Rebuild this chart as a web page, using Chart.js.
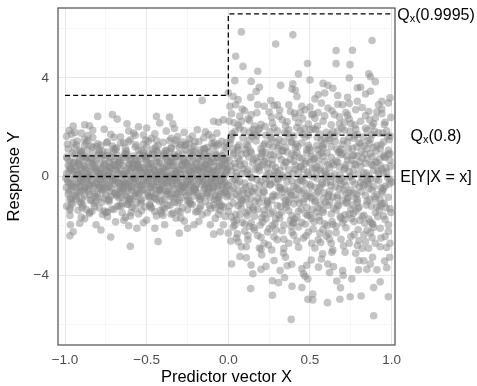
<!DOCTYPE html>
<html>
<head>
<meta charset="utf-8">
<script src="https://cdn.jsdelivr.net/npm/chart.js@4.4.1/dist/chart.umd.min.js"></script>
<style>
html,body{margin:0;padding:0;background:#fff;}
canvas{display:block;}
</style>
</head>
<body>
<canvas id="c" width="477" height="386"></canvas>
<script>
// ---- Data ----
const xMajor = [-1, -0.5, 0, 0.5, 1];
const xGrid = [-1, -0.75, -0.5, -0.25, 0, 0.25, 0.5, 0.75, 1];
const yMajor = [-4, 0, 4];
const yGrid = [-6, -4, -2, 0, 2, 4, 6];

// Q_x(0.9995) step line
const q9995X = [-1, 0, 0, 1];
const q9995Y = [3.29, 3.29, 6.6, 6.6];
// Q_x(0.8) step line
const q80X = [-1, 0, 0, 1];
const q80Y = [0.84, 0.84, 1.68, 1.68];
// E[Y|X=x]
const meanX = [-1, 1];
const meanY = [0, 0];

const lineLabels = ["Q|x|(0.9995)", "Q|x|(0.8)", "E[Y|X = x]"];
const lineLabelY = [6.6, 1.68, 0];

// observations, X < 0
const leftPts = [
[-0.80,2.44],[-0.71,2.51],[-0.44,2.44],[-0.36,2.41],[-0.16,3.09],[-0.60,-2.83],[-0.43,-2.64],
[-0.68,2.33],[-0.62,2.14],[-0.34,2.14],[-0.42,2.17],[-0.72,-2.46],[-0.97,-2.41],[-0.30,-2.30],[-0.09,-2.34],[-0.06,2.2],[-0.03,2.3],[-0.95,2.05],[-0.55,2.02],[-0.25,-2.1],[-0.45,-2.1],[-0.78,-2.17],[-0.61,-2.0],[-0.88,2.1],[-0.85,2.06],[-0.09,2.24],[-0.95,-2.24],[-0.56,-2.1],[-0.05,-2.24],
[-0.975,1.87],[-0.94,1.79],[-0.9,1.76],[-0.58,1.76],[-0.5,1.97],[-0.27,1.79],[-0.12,1.7],[-0.07,1.76],[-0.99,1.63],[-0.967,-1.96],[-0.81,-1.96],[-0.91,-1.9],[-0.39,-1.96],[-0.32,-1.69],[-0.21,-1.96],[-0.11,-1.96],[-0.03,-1.96],
[-0.83,1.58],[-0.76,1.92],[-0.66,1.61],[-0.52,1.68],[-0.47,1.55],[-0.38,1.84],[-0.31,1.62],[-0.19,1.9],[-0.15,1.57],[-0.72,1.71],[-0.61,1.85],[-0.24,1.52],[-0.86,1.66],
[-0.97,-1.58],[-0.88,-1.72],[-0.74,-1.63],[-0.69,-1.84],[-0.55,-1.52],[-0.5,-1.77],[-0.44,-1.6],[-0.27,-1.81],[-0.16,-1.55],[-0.08,-1.7],[-0.63,-1.66],[-0.35,-1.53],[-0.02,-1.62],[-0.85,-1.51],[-0.97,-1.28],
[-0.96,1.72],[-0.9,-1.65],[-0.83,1.88],[-0.77,-1.54],[-0.7,1.59],[-0.64,-1.78],[-0.57,1.67],[-0.52,-1.88],[-0.45,1.73],[-0.4,-1.57],[-0.33,1.95],[-0.29,-1.68],[-0.22,1.64],[-0.18,-1.82],[-0.1,1.58],[-0.06,-1.53],[-0.88,1.51],[-0.6,-1.6],[-0.35,1.55],[-0.14,1.81],
[-0.98,1.12],[-0.95,1.38],[-0.91,1.05],[-0.88,1.27],[-0.86,1.46],[-0.83,1.19],[-0.8,1.33],[-0.77,1.02],[-0.74,1.41],[-0.71,1.24],[-0.69,1.09],[-0.66,1.36],[-0.63,1.15],[-0.6,1.49],[-0.57,1.21],[-0.55,1.07],[-0.52,1.31],[-0.49,1.44],[-0.46,1.11],[-0.43,1.26],[-0.4,1.39],[-0.38,1.03],[-0.35,1.17],[-0.32,1.47],[-0.29,1.29],[-0.26,1.08],[-0.24,1.35],[-0.21,1.22],[-0.18,1.42],[-0.15,1.13],[-0.12,1.01],[-0.1,1.34],[-0.07,1.25],[-0.04,1.43],[-0.01,1.16],[-0.93,1.28],[-0.79,1.06],[-0.64,1.37],[-0.5,1.2],[-0.36,1.45],[-0.22,1.1],[-0.06,1.32],[-0.84,1.23],[-0.44,1.04],[-0.28,1.4],[-0.13,1.18],
[-0.99,-1.21],[-0.96,-1.04],[-0.92,-1.37],[-0.89,-1.16],[-0.85,-1.45],[-0.82,-1.09],[-0.79,-1.28],[-0.76,-1.4],[-0.73,-1.02],[-0.7,-1.33],[-0.67,-1.19],[-0.65,-1.47],[-0.62,-1.12],[-0.59,-1.25],[-0.56,-1.06],[-0.53,-1.39],[-0.51,-1.23],[-0.48,-1.14],[-0.45,-1.42],[-0.42,-1.01],[-0.39,-1.3],[-0.37,-1.18],[-0.34,-1.48],[-0.31,-1.07],[-0.28,-1.26],[-0.25,-1.35],[-0.23,-1.11],[-0.2,-1.44],[-0.17,-1.2],[-0.14,-1.03],[-0.11,-1.31],[-0.09,-1.15],[-0.05,-1.38],[-0.03,-1.24],[-0.9,-1.08],[-0.75,-1.46],[-0.61,-1.13],[-0.47,-1.29],[-0.33,-1.05],[-0.19,-1.41],[-0.04,-1.17],[-0.87,-1.34],[-0.68,-1.22],[-0.41,-1.49],[-0.24,-1.1],[-0.08,-1.27],
[-0.985,1.31],[-0.955,-1.12],[-0.925,1.44],[-0.895,-1.27],[-0.865,1.09],[-0.835,-1.41],[-0.805,1.22],[-0.775,-1.05],[-0.745,1.37],[-0.715,-1.33],[-0.685,1.15],[-0.655,-1.2],[-0.625,1.03],[-0.595,-1.46],[-0.565,1.29],[-0.535,-1.1],[-0.505,1.48],[-0.475,-1.24],[-0.445,1.19],[-0.415,-1.38],[-0.385,1.06],[-0.355,-1.16],[-0.325,1.33],[-0.295,-1.43],[-0.265,1.25],[-0.235,-1.02],[-0.205,1.41],[-0.175,-1.29],[-0.145,1.11],[-0.115,-1.18],[-0.085,1.36],[-0.055,-1.07],[-0.025,1.21],[-0.97,-1.36],[-0.94,1.17],[-0.91,-1.03],[-0.87,1.39],[-0.82,-1.23],[-0.78,1.27],[-0.74,-1.44],[-0.7,1.13],[-0.65,-1.09],[-0.61,1.42],[-0.57,-1.3],[-0.53,1.05],[-0.48,-1.17],[-0.44,1.46],[-0.4,-1.26],[-0.35,1.14],[-0.31,-1.4],[-0.26,1.3],[-0.22,-1.14],[-0.17,1.07],[-0.13,-1.47],[-0.09,1.24],[-0.05,-1.21],[-0.01,1.38],[-0.6,-1.04],[-0.3,1.18],[-0.9,1.01],
[-0.97,0.62],[-0.94,0.88],[-0.92,0.54],[-0.9,0.97],[-0.87,0.71],[-0.85,0.59],[-0.83,0.93],[-0.81,0.66],[-0.78,0.81],[-0.76,0.52],[-0.74,0.99],[-0.72,0.74],[-0.7,0.6],[-0.68,0.86],[-0.66,0.55],[-0.64,0.78],[-0.62,0.92],[-0.6,0.64],[-0.58,0.83],[-0.56,0.51],[-0.54,0.69],[-0.52,0.95],[-0.5,0.58],[-0.48,0.77],[-0.46,0.89],[-0.44,0.63],[-0.42,0.53],[-0.4,0.84],[-0.38,0.7],[-0.36,0.98],[-0.34,0.57],[-0.32,0.8],[-0.3,0.65],[-0.28,0.91],[-0.26,0.56],[-0.24,0.75],[-0.22,0.87],[-0.2,0.61],[-0.18,0.94],[-0.16,0.68],[-0.14,0.5],[-0.12,0.82],[-0.1,0.73],[-0.08,0.96],[-0.06,0.59],[-0.04,0.85],[-0.02,0.67],[-0.99,0.79],[-0.95,0.57],[-0.89,0.83],[-0.84,0.74],[-0.79,0.96],[-0.73,0.58],[-0.67,0.72],[-0.63,0.9],[-0.57,0.66],[-0.51,0.8],[-0.47,0.53],[-0.43,0.97],[-0.37,0.62],[-0.33,0.88],[-0.27,0.71],[-0.23,0.55],[-0.17,0.84],[-0.13,0.64],[-0.07,0.78],[-0.03,0.93],[-0.91,0.69],[-0.77,0.87],[-0.61,0.51],[-0.49,0.91],[-0.35,0.76],[-0.21,0.99],[-0.09,0.6],[-0.01,0.73],
[-0.98,-0.71],[-0.96,-0.55],[-0.93,-0.9],[-0.91,-0.63],[-0.88,-0.79],[-0.86,-0.52],[-0.84,-0.97],[-0.82,-0.68],[-0.8,-0.84],[-0.77,-0.59],[-0.75,-0.76],[-0.73,-0.93],[-0.71,-0.5],[-0.69,-0.66],[-0.67,-0.87],[-0.65,-0.61],[-0.63,-0.74],[-0.61,-0.98],[-0.59,-0.56],[-0.57,-0.81],[-0.55,-0.69],[-0.53,-0.92],[-0.51,-0.53],[-0.49,-0.77],[-0.47,-0.64],[-0.45,-0.89],[-0.43,-0.58],[-0.41,-0.72],[-0.39,-0.95],[-0.37,-0.6],[-0.35,-0.83],[-0.33,-0.51],[-0.31,-0.7],[-0.29,-0.86],[-0.27,-0.62],[-0.25,-0.99],[-0.23,-0.57],[-0.21,-0.79],[-0.19,-0.67],[-0.17,-0.91],[-0.15,-0.54],[-0.13,-0.75],[-0.11,-0.85],[-0.09,-0.61],[-0.07,-0.96],[-0.05,-0.7],[-0.03,-0.53],[-0.01,-0.82],[-0.97,-0.94],[-0.9,-0.6],[-0.85,-0.73],[-0.78,-0.51],[-0.72,-0.8],[-0.66,-0.57],[-0.6,-0.9],[-0.54,-0.65],[-0.48,-0.85],[-0.42,-0.55],[-0.36,-0.74],[-0.3,-0.97],[-0.24,-0.63],[-0.18,-0.8],[-0.12,-0.52],[-0.06,-0.88],[-0.02,-0.66],[-0.94,-0.78],[-0.81,-0.99],[-0.68,-0.72],[-0.56,-0.58],[-0.44,-0.93],[-0.32,-0.68],[-0.2,-0.54],[-0.08,-0.77],[-0.62,-0.84],[-0.38,-0.61],
[-0.985,0.73],[-0.965,-0.86],[-0.945,0.58],[-0.925,-0.64],[-0.905,0.91],[-0.885,-0.53],[-0.865,0.8],[-0.845,-0.95],[-0.825,0.66],[-0.805,-0.72],[-0.785,0.54],[-0.765,-0.88],[-0.745,0.85],[-0.725,-0.6],[-0.705,0.97],[-0.685,-0.78],[-0.665,0.63],[-0.645,-0.51],[-0.625,0.76],[-0.605,-0.93],[-0.585,0.52],[-0.565,-0.67],[-0.545,0.88],[-0.525,-0.56],[-0.505,0.69],[-0.485,-0.82],[-0.465,0.95],[-0.445,-0.7],[-0.425,0.6],[-0.405,-0.99],[-0.385,0.79],[-0.365,-0.57],[-0.345,0.67],[-0.325,-0.76],[-0.305,0.9],[-0.285,-0.63],[-0.265,0.55],[-0.245,-0.87],[-0.225,0.82],[-0.205,-0.52],[-0.185,0.7],[-0.165,-0.8],[-0.145,0.94],[-0.125,-0.65],[-0.105,0.57],[-0.085,-0.92],[-0.065,0.77],[-0.045,-0.59],[-0.025,0.64],[-0.005,-0.74],
[-0.975,-0.58],[-0.955,0.95],[-0.935,-0.79],[-0.915,0.61],[-0.895,-0.9],[-0.875,0.75],[-0.855,-0.62],[-0.835,0.53],[-0.815,-0.81],[-0.795,0.89],[-0.775,-0.54],[-0.755,0.68],[-0.735,-0.96],[-0.715,0.81],[-0.695,-0.69],[-0.675,0.57],[-0.655,-0.84],[-0.635,0.93],[-0.615,-0.6],[-0.595,0.72],[-0.575,-0.77],[-0.555,0.62],[-0.535,-0.98],[-0.515,0.86],[-0.495,-0.66],[-0.475,0.51],[-0.455,-0.83],[-0.435,0.74],[-0.415,-0.55],[-0.395,0.92],[-0.375,-0.71],[-0.355,0.58],[-0.335,-0.9],[-0.315,0.81],[-0.295,-0.53],[-0.275,0.66],[-0.255,-0.78],[-0.235,0.98],[-0.215,-0.61],[-0.195,0.55],[-0.175,-0.94],[-0.155,0.79],[-0.135,-0.68],[-0.115,0.63],[-0.095,-0.5],[-0.075,0.87],[-0.055,-0.8],[-0.035,0.7],[-0.015,-0.6],[-0.5,0.78],
[-0.99,0.12],[-0.97,0.38],[-0.95,0.05],[-0.93,0.27],[-0.91,0.44],[-0.89,0.16],[-0.87,0.33],[-0.85,0.02],[-0.83,0.48],[-0.81,0.21],[-0.79,0.09],[-0.77,0.36],[-0.75,0.25],[-0.73,0.41],[-0.71,0.07],[-0.69,0.3],[-0.67,0.14],[-0.65,0.46],[-0.63,0.22],[-0.61,0.03],[-0.59,0.35],[-0.57,0.18],[-0.55,0.42],[-0.53,0.1],[-0.51,0.29],[-0.49,0.47],[-0.47,0.06],[-0.45,0.24],[-0.43,0.39],[-0.41,0.13],[-0.39,0.32],[-0.37,0.01],[-0.35,0.45],[-0.33,0.2],[-0.31,0.37],[-0.29,0.08],[-0.27,0.28],[-0.25,0.49],[-0.23,0.15],[-0.21,0.34],[-0.19,0.04],[-0.17,0.43],[-0.15,0.19],[-0.13,0.31],[-0.11,0.11],[-0.09,0.4],[-0.07,0.23],[-0.05,0.06],[-0.03,0.37],[-0.01,0.17],[-0.98,0.45],[-0.94,0.2],[-0.9,0.31],[-0.86,0.11],[-0.82,0.39],[-0.78,0.26],[-0.74,0.04],[-0.7,0.47],[-0.66,0.3],[-0.62,0.13],[-0.58,0.41],[-0.54,0.23],[-0.5,0.08],[-0.46,0.35],[-0.42,0.19],[-0.38,0.44],[-0.34,0.1],[-0.3,0.27],[-0.26,0.03],[-0.22,0.4],[-0.18,0.24],[-0.14,0.46],[-0.1,0.14],[-0.06,0.33],[-0.02,0.07],[-0.96,0.29],[-0.88,0.42],[-0.8,0.17],[-0.72,0.34],[-0.64,0.05],[-0.56,0.48],[-0.48,0.16],[-0.4,0.36],[-0.32,0.09],[-0.24,0.25],[-0.16,0.38],[-0.08,0.02],[-0.92,0.09],[-0.76,0.43],[-0.6,0.25],[-0.44,0.12],[-0.28,0.45],[-0.12,0.28],[-0.04,0.48],[-0.52,0.36],
[-0.98,-0.23],[-0.96,-0.41],[-0.94,-0.08],[-0.92,-0.33],[-0.9,-0.15],[-0.88,-0.47],[-0.86,-0.02],[-0.84,-0.27],[-0.82,-0.39],[-0.8,-0.11],[-0.78,-0.35],[-0.76,-0.05],[-0.74,-0.44],[-0.72,-0.19],[-0.7,-0.3],[-0.68,-0.09],[-0.66,-0.48],[-0.64,-0.22],[-0.62,-0.37],[-0.6,-0.13],[-0.58,-0.26],[-0.56,-0.04],[-0.54,-0.43],[-0.52,-0.17],[-0.5,-0.32],[-0.48,-0.07],[-0.46,-0.4],[-0.44,-0.21],[-0.42,-0.49],[-0.4,-0.12],[-0.38,-0.29],[-0.36,-0.03],[-0.34,-0.38],[-0.32,-0.16],[-0.3,-0.45],[-0.28,-0.24],[-0.26,-0.1],[-0.24,-0.34],[-0.22,-0.06],[-0.2,-0.42],[-0.18,-0.18],[-0.16,-0.31],[-0.14,-0.01],[-0.12,-0.46],[-0.1,-0.25],[-0.08,-0.14],[-0.06,-0.36],[-0.04,-0.09],[-0.02,-0.28],[-0.995,-0.06],[-0.93,-0.45],[-0.89,-0.2],[-0.85,-0.36],[-0.81,-0.01],[-0.77,-0.25],[-0.73,-0.4],[-0.69,-0.14],[-0.65,-0.31],[-0.61,-0.47],[-0.57,-0.1],[-0.53,-0.35],[-0.49,-0.19],[-0.45,-0.02],[-0.41,-0.42],[-0.37,-0.27],[-0.33,-0.08],[-0.29,-0.37],[-0.25,-0.2],[-0.21,-0.48],[-0.17,-0.05],[-0.13,-0.3],[-0.09,-0.43],[-0.05,-0.17],[-0.01,-0.39],[-0.97,-0.3],[-0.87,-0.12],[-0.79,-0.44],[-0.71,-0.07],[-0.63,-0.29],[-0.55,-0.15],[-0.47,-0.46],[-0.39,-0.22],[-0.31,-0.04],[-0.23,-0.33],[-0.15,-0.13],[-0.07,-0.41],[-0.91,-0.38],[-0.75,-0.16],[-0.59,-0.4],[-0.43,-0.11],[-0.27,-0.43],[-0.11,-0.21],[-0.03,-0.03],[-0.67,-0.26],[-0.35,-0.18],
[-0.985,-0.14],[-0.965,0.31],[-0.945,-0.38],[-0.925,0.07],[-0.905,-0.22],[-0.885,0.43],[-0.865,-0.04],[-0.845,0.19],[-0.825,-0.46],[-0.805,0.28],[-0.785,-0.12],[-0.765,0.01],[-0.745,-0.33],[-0.725,0.37],[-0.705,-0.18],[-0.685,0.23],[-0.665,-0.41],[-0.645,0.09],[-0.625,-0.27],[-0.605,0.44],[-0.585,-0.06],[-0.565,0.26],[-0.545,-0.36],[-0.525,0.15],[-0.505,-0.23],[-0.485,0.33],[-0.465,-0.11],[-0.445,0.05],[-0.425,-0.44],[-0.405,0.21],[-0.385,-0.02],[-0.365,0.39],[-0.345,-0.29],[-0.325,0.12],[-0.305,-0.17],[-0.285,0.47],[-0.265,-0.35],[-0.245,0.03],[-0.225,-0.24],[-0.205,0.29],[-0.185,-0.09],[-0.165,0.17],[-0.145,-0.47],[-0.125,0.41],[-0.105,-0.13],[-0.085,0.25],[-0.065,-0.3],[-0.045,0.1],[-0.025,-0.2],[-0.005,0.32],
[-0.975,0.21],[-0.955,-0.27],[-0.935,0.4],[-0.915,-0.09],[-0.895,0.02],[-0.875,-0.43],[-0.855,0.26],[-0.835,-0.17],[-0.815,0.35],[-0.795,-0.3],[-0.775,0.12],[-0.755,-0.48],[-0.735,0.2],[-0.715,-0.01],[-0.695,0.46],[-0.675,-0.24],[-0.655,0.07],[-0.635,-0.39],[-0.615,0.32],[-0.595,-0.15],[-0.575,0.0],[-0.555,-0.31],[-0.535,0.38],[-0.515,-0.07],[-0.495,0.18],[-0.475,-0.42],[-0.455,0.27],[-0.435,-0.19],[-0.415,0.08],[-0.395,-0.37],[-0.375,0.22],[-0.355,-0.05],[-0.335,0.45],[-0.315,-0.26],[-0.295,0.14],[-0.275,-0.44],[-0.255,0.3],[-0.235,-0.12],[-0.215,0.04],[-0.195,-0.33],[-0.175,0.36],[-0.155,-0.21],[-0.135,0.11],[-0.115,-0.4],[-0.095,0.19],[-0.075,-0.06],[-0.055,0.42],[-0.035,-0.32],[-0.015,0.24],[-0.5,0.0],
[-0.992,-0.45],[-0.9,0.13],[-0.81,-0.26],[-0.73,0.16],[-0.64,-0.19],[-0.55,0.34],[-0.46,-0.31],[-0.37,0.06],[-0.28,-0.4],[-0.19,0.29],[-0.1,-0.07],[-0.02,0.44],[-0.86,-0.3],[-0.68,0.41],[-0.41,-0.14],[-0.23,0.18],[-0.14,-0.36],[-0.78,0.03],[-0.59,-0.45],[-0.32,0.23]
];

// observations, X >= 0
const rightPts = [
[0.08,5.87],[0.045,4.88],[0.09,4.47],[0.18,4.27],[0.29,5.38],[0.395,5.75],[0.485,4.59],[0.43,4.16],[0.66,5.11],[0.76,5.12],[0.88,5.52],[0.66,4.58],[0.745,4.54],[0.86,4.17],[0.74,4.0],[0.58,3.78],[0.61,3.7],[0.395,3.76],[0.39,3.55],[0.04,3.89],[0.14,3.86],[0.19,3.62],[0.59,3.39],[0.55,3.32],[0.67,3.29],[0.81,3.62],[0.79,3.6],[0.87,3.46],[0.99,3.19],[0.42,3.25],[0.137,3.21],[0.0,3.4],[0.03,3.25],[0.74,2.97],[0.79,3.05],[0.01,2.85],[0.87,4.05],
[0.385,-5.8],[0.89,-5.65],[0.137,-4.55],[0.27,-4.82],[0.39,-4.46],[0.45,-4.51],[0.487,-4.98],[0.517,-5.01],[0.517,-4.77],[0.607,-5.12],[0.683,-4.98],[0.746,-4.88],[0.813,-4.85],[0.98,-4.88],[0.89,-4.51],[0.93,-4.27],[0.687,-4.52],[0.664,-4.24],[0.703,-4.02],[0.756,-4.15],[0.27,-4.23],[0.307,-4.31],[0.344,-4.1],[0.317,-3.82],[0.45,-3.75],[0.487,-4.16],[0.139,-3.59],[0.2,-3.77],[0.071,-3.25],[0.388,-3.56],[0.552,-3.68],[0.609,-3.55],[0.644,-3.66],[0.797,-3.79],[0.848,-3.77],[0.91,-3.79],[0.957,-3.43],[0.988,-3.28],[0.883,-3.28],[0.8,-3.41],[0.83,-3.42],[0.715,-3.07],[0.577,-3.14],[0.634,-3.07],[0.507,-3.39],[0.28,-3.41],[0.266,-2.98],[0.337,-3.11],[0.204,-3.18],[0.859,-2.91],[0.93,-2.85],[0.46,-3.95],[0.47,-4.05],
[0.02,-3.55],[0.06,3.12],[0.11,-3.3],[0.17,3.45],[0.23,-3.65],[0.26,3.08],[0.35,-3.28],[0.41,3.5],[0.48,-3.6],[0.53,3.15],[0.57,-3.35],[0.64,3.58],[0.7,-3.82],[0.73,3.22],[0.78,-3.12],[0.84,3.35],[0.87,-3.55],[0.94,3.05],[0.97,-3.7],[0.32,3.7],[0.62,-3.9],[0.9,3.85],[0.15,-3.95],[0.5,3.92],[0.36,-3.62],
[0.045,2.91],[0.10,2.67],[0.14,2.51],[0.18,2.91],[0.22,2.85],[0.30,2.91],[0.37,2.91],[0.38,2.64],[0.47,2.71],[0.51,2.51],[0.57,2.98],[0.61,2.78],[0.65,2.51],[0.70,2.91],[0.78,2.71],[0.86,2.64],[0.92,2.91],[0.98,2.98],[0.90,2.37],[0.81,2.24],[0.58,2.24],[0.33,2.3],[0.27,2.17],[0.08,2.24],[0.005,2.24],[0.43,2.17],
[0.02,2.55],[0.06,2.08],[0.12,2.33],[0.2,2.12],[0.25,2.62],[0.31,2.45],[0.35,2.06],[0.41,2.4],[0.45,2.85],[0.49,2.13],[0.53,2.36],[0.63,2.1],[0.68,2.42],[0.72,2.6],[0.75,2.15],[0.84,2.47],[0.88,2.05],[0.94,2.55],[0.96,2.2],[0.55,2.6],[0.16,2.05],[0.74,2.33],
[0.0,-2.3],[0.05,-2.5],[0.12,-2.57],[0.16,-2.17],[0.22,-2.71],[0.3,-2.57],[0.37,-2.71],[0.46,-2.5],[0.51,-2.71],[0.55,-2.57],[0.63,-2.71],[0.74,-2.71],[0.82,-2.91],[0.9,-2.71],[0.96,-2.44],[0.99,-2.71],[0.34,-2.91],
[0.03,-2.05],[0.08,-2.85],[0.1,-2.22],[0.18,-2.4],[0.2,-2.95],[0.25,-2.12],[0.28,-2.45],[0.33,-2.2],[0.4,-2.38],[0.43,-2.05],[0.49,-2.25],[0.53,-2.9],[0.58,-2.15],[0.6,-2.42],[0.66,-2.28],[0.69,-2.55],[0.72,-2.08],[0.77,-2.36],[0.8,-2.6],[0.85,-2.18],[0.88,-2.48],[0.93,-2.1],[0.97,-2.88],[0.13,-2.02],[0.42,-2.62],[0.64,-2.98],[0.06,-2.65],[0.87,-2.28],
[0.015,-2.62],[0.035,2.18],[0.055,-2.33],[0.085,2.74],[0.11,-2.85],[0.13,2.27],[0.155,-2.08],[0.175,2.59],[0.2,-2.47],[0.225,2.03],[0.245,-2.78],[0.265,2.41],[0.29,-2.16],[0.315,2.7],[0.34,-2.55],[0.36,2.22],[0.385,-2.03],[0.405,2.57],[0.43,-2.87],[0.455,2.35],[0.475,-2.41],[0.5,2.82],[0.52,-2.13],[0.545,2.05],[0.565,-2.68],[0.59,2.46],[0.615,-2.31],[0.635,2.67],[0.66,-2.02],[0.68,2.14],[0.705,-2.82],[0.73,2.49],[0.75,-2.44],[0.775,2.09],[0.795,-2.16],[0.82,2.8],[0.84,-2.65],[0.865,2.3],[0.89,-2.07],[0.91,2.63],[0.935,-2.5],[0.955,2.11],[0.98,-2.23],[0.995,2.4],[0.07,2.45],[0.19,-2.9],[0.28,2.88],[0.39,-2.26],[0.52,2.53],[0.62,-2.55],[0.71,2.2],[0.83,-2.37],[0.94,2.74],[0.12,-2.4],[0.44,2.6],[0.56,-2.3],[0.67,2.93],[0.79,-2.8],[0.89,2.15],[0.24,-2.25],
[0.01,1.35],[0.04,1.82],[0.06,1.07],[0.09,1.56],[0.12,1.23],[0.15,1.91],[0.17,1.44],[0.2,1.12],[0.23,1.67],[0.25,1.29],[0.28,1.98],[0.31,1.5],[0.33,1.03],[0.36,1.75],[0.39,1.38],[0.41,1.16],[0.44,1.86],[0.47,1.6],[0.49,1.27],[0.52,1.94],[0.55,1.09],[0.57,1.47],[0.6,1.79],[0.63,1.21],[0.65,1.63],[0.68,1.02],[0.71,1.88],[0.73,1.41],[0.76,1.14],[0.79,1.7],[0.81,1.33],[0.84,1.96],[0.87,1.52],[0.89,1.18],[0.92,1.77],[0.95,1.4],[0.98,1.06],[0.02,1.62],[0.07,1.97],[0.11,1.3],[0.16,1.73],[0.21,1.01],[0.26,1.58],[0.3,1.84],[0.35,1.19],[0.4,1.65],[0.45,1.36],[0.5,1.9],[0.54,1.25],[0.59,1.53],[0.64,1.81],[0.69,1.1],[0.74,1.59],[0.78,1.92],[0.83,1.24],[0.88,1.69],[0.93,1.13],[0.97,1.85],[0.03,1.11],[0.13,1.49],[0.19,1.95],[0.27,1.2],[0.34,1.43],[0.42,1.99],[0.48,1.08],[0.56,1.72],[0.62,1.46],[0.7,1.31],[0.77,1.55],[0.85,1.87],[0.91,1.26],[0.99,1.64],[0.37,1.9],[0.58,1.15],[0.8,1.37],
[0.0,-1.42],[0.03,-1.08],[0.05,-1.77],[0.08,-1.29],[0.1,-1.93],[0.13,-1.15],[0.16,-1.61],[0.18,-1.34],[0.21,-1.85],[0.24,-1.05],[0.26,-1.5],[0.29,-1.72],[0.32,-1.22],[0.34,-1.97],[0.37,-1.39],[0.4,-1.11],[0.42,-1.66],[0.45,-1.87],[0.48,-1.26],[0.5,-1.58],[0.53,-1.03],[0.56,-1.8],[0.58,-1.45],[0.61,-1.17],[0.64,-1.95],[0.66,-1.36],[0.69,-1.69],[0.72,-1.09],[0.74,-1.53],[0.77,-1.83],[0.8,-1.24],[0.82,-1.62],[0.85,-1.01],[0.88,-1.9],[0.9,-1.47],[0.93,-1.2],[0.96,-1.75],[0.99,-1.31],[0.02,-1.64],[0.06,-1.19],[0.11,-1.48],[0.14,-1.88],[0.19,-1.07],[0.22,-1.37],[0.27,-1.99],[0.31,-1.56],[0.35,-1.13],[0.38,-1.79],[0.43,-1.41],[0.46,-1.04],[0.51,-1.7],[0.55,-1.28],[0.59,-1.92],[0.63,-1.52],[0.67,-1.14],[0.71,-1.76],[0.75,-1.32],[0.79,-1.06],[0.83,-1.57],[0.87,-1.84],[0.91,-1.23],[0.95,-1.6],[0.98,-1.96],[0.07,-1.55],[0.15,-1.27],[0.23,-1.71],[0.3,-1.18],[0.39,-1.6],[0.47,-1.94],[0.54,-1.44],[0.62,-1.02],[0.7,-1.89],[0.78,-1.4],[0.86,-1.73],[0.94,-1.1],
[0.005,-1.2],[0.025,1.74],[0.045,-1.53],[0.065,1.28],[0.085,-1.86],[0.105,1.09],[0.125,-1.39],[0.145,1.63],[0.165,-1.02],[0.185,1.88],[0.205,-1.67],[0.225,1.35],[0.245,-1.25],[0.265,1.52],[0.285,-1.91],[0.305,1.14],[0.325,-1.45],[0.345,1.78],[0.365,-1.06],[0.385,1.41],[0.405,-1.73],[0.425,1.22],[0.445,-1.32],[0.465,1.95],[0.485,-1.58],[0.505,1.05],[0.525,-1.84],[0.545,1.57],[0.565,-1.17],[0.585,1.31],[0.605,-1.99],[0.625,1.7],[0.645,-1.29],[0.665,1.11],[0.685,-1.62],[0.705,1.46],[0.725,-1.04],[0.745,1.83],[0.765,-1.5],[0.785,1.2],[0.805,-1.78],[0.825,1.6],[0.845,-1.16],[0.865,1.34],[0.885,-1.95],[0.905,1.03],[0.925,-1.37],[0.945,1.76],[0.965,-1.27],[0.985,1.49],
[0.015,1.5],[0.035,-1.81],[0.055,1.19],[0.075,-1.1],[0.095,1.87],[0.115,-1.59],[0.135,1.04],[0.155,-1.35],[0.175,1.66],[0.195,-1.97],[0.215,1.27],[0.235,-1.12],[0.255,1.81],[0.275,-1.44],[0.295,1.39],[0.315,-1.69],[0.335,1.06],[0.355,-1.24],[0.375,1.59],[0.395,-1.89],[0.415,1.32],[0.435,-1.08],[0.455,1.72],[0.475,-1.51],[0.495,1.15],[0.515,-1.33],[0.535,1.9],[0.555,-1.64],[0.575,1.24],[0.595,-1.05],[0.615,1.54],[0.635,-1.83],[0.655,1.42],[0.675,-1.19],[0.695,1.97],[0.715,-1.55],[0.735,1.12],[0.755,-1.71],[0.775,1.65],[0.795,-1.3],[0.815,1.01],[0.835,-1.9],[0.855,1.45],[0.875,-1.21],[0.895,1.83],[0.915,-1.63],[0.935,1.29],[0.955,-1.09],[0.975,1.61],[0.995,-1.46],
[0.04,-1.97],[0.13,1.8],[0.22,-1.54],[0.31,1.25],[0.4,-1.88],[0.49,1.67],[0.58,-1.36],[0.67,1.85],[0.76,-1.15],[0.85,1.13],
[0.01,0.42],[0.03,0.87],[0.05,0.15],[0.07,0.63],[0.09,0.31],[0.11,0.94],[0.13,0.08],[0.15,0.55],[0.17,0.76],[0.19,0.23],[0.21,0.49],[0.23,0.98],[0.25,0.12],[0.27,0.68],[0.29,0.37],[0.31,0.84],[0.33,0.04],[0.35,0.59],[0.37,0.27],[0.39,0.91],[0.41,0.45],[0.43,0.18],[0.45,0.72],[0.47,0.53],[0.49,0.06],[0.51,0.81],[0.53,0.34],[0.55,0.62],[0.57,0.96],[0.59,0.21],[0.61,0.47],[0.63,0.78],[0.65,0.1],[0.67,0.58],[0.69,0.88],[0.71,0.29],[0.73,0.67],[0.75,0.02],[0.77,0.51],[0.79,0.83],[0.81,0.39],[0.83,0.14],[0.85,0.71],[0.87,0.93],[0.89,0.25],[0.91,0.57],[0.93,0.44],[0.95,0.86],[0.97,0.19],[0.99,0.65],[0.02,0.22],[0.06,0.74],[0.1,0.51],[0.14,0.96],[0.18,0.33],[0.22,0.61],[0.26,0.89],[0.3,0.16],[0.34,0.43],[0.38,0.7],[0.42,0.97],[0.46,0.28],[0.5,0.56],[0.54,0.09],[0.58,0.82],[0.62,0.36],[0.66,0.64],[0.7,0.92],[0.74,0.2],[0.78,0.48],[0.82,0.75],[0.86,0.03],[0.9,0.6],[0.94,0.3],[0.98,0.9],[0.04,0.53],[0.12,0.27],[0.2,0.8],[0.28,0.05],[0.36,0.99],[0.44,0.4],[0.52,0.69],[0.6,0.13],[0.68,0.38],[0.76,0.85],[0.84,0.54],[0.92,0.11],[0.96,0.77],[0.08,0.9],[0.24,0.35],[0.4,0.62],[0.56,0.24],[0.72,0.46],[0.88,0.8],[0.48,0.95],
[0.0,-0.36],[0.02,-0.81],[0.04,-0.12],[0.06,-0.58],[0.08,-0.95],[0.1,-0.27],[0.12,-0.69],[0.14,-0.04],[0.16,-0.47],[0.18,-0.88],[0.2,-0.19],[0.22,-0.63],[0.24,-0.99],[0.26,-0.31],[0.28,-0.74],[0.3,-0.08],[0.32,-0.52],[0.34,-0.85],[0.36,-0.22],[0.38,-0.66],[0.4,-0.41],[0.42,-0.93],[0.44,-0.14],[0.46,-0.57],[0.48,-0.79],[0.5,-0.33],[0.52,-0.02],[0.54,-0.71],[0.56,-0.46],[0.58,-0.9],[0.6,-0.25],[0.62,-0.6],[0.64,-0.83],[0.66,-0.11],[0.68,-0.5],[0.7,-0.97],[0.72,-0.38],[0.74,-0.65],[0.76,-0.18],[0.78,-0.87],[0.8,-0.43],[0.82,-0.06],[0.84,-0.77],[0.86,-0.29],[0.88,-0.54],[0.9,-0.92],[0.92,-0.16],[0.94,-0.68],[0.96,-0.4],[0.98,-0.84],[1.0,-0.23],[0.03,-0.48],[0.07,-0.2],[0.11,-0.9],[0.15,-0.62],[0.19,-0.35],[0.23,-0.07],[0.27,-0.8],[0.31,-0.45],[0.35,-0.98],[0.39,-0.17],[0.43,-0.53],[0.47,-0.28],[0.51,-0.89],[0.55,-0.61],[0.59,-0.03],[0.63,-0.37],[0.67,-0.76],[0.71,-0.21],[0.75,-0.56],[0.79,-0.94],[0.83,-0.32],[0.87,-0.09],[0.91,-0.73],[0.95,-0.49],[0.99,-0.13],[0.05,-0.72],[0.13,-0.39],[0.21,-0.86],[0.29,-0.24],[0.37,-0.59],[0.45,-0.05],[0.53,-0.44],[0.61,-0.82],[0.69,-0.3],[0.77,-0.67],[0.85,-0.15],[0.93,-0.96],[0.09,-0.55],[0.25,-0.15],[0.41,-0.75],[0.57,-0.34],[0.73,-0.88],[0.89,-0.42],[0.33,-0.64],
[0.005,0.64],[0.025,-0.19],[0.045,0.37],[0.065,-0.82],[0.085,0.11],[0.105,-0.45],[0.125,0.79],[0.145,-0.06],[0.165,0.28],[0.185,-0.63],[0.205,0.93],[0.225,-0.33],[0.245,0.52],[0.265,-0.97],[0.285,0.2],[0.305,-0.14],[0.325,0.68],[0.345,-0.51],[0.365,0.03],[0.385,-0.77],[0.405,0.86],[0.425,-0.25],[0.445,0.41],[0.465,-0.9],[0.485,0.17],[0.505,-0.4],[0.525,0.74],[0.545,-0.09],[0.565,0.33],[0.585,-0.66],[0.605,0.96],[0.625,-0.21],[0.645,0.48],[0.665,-0.86],[0.685,0.07],[0.705,-0.55],[0.725,0.83],[0.745,-0.02],[0.765,0.26],[0.785,-0.73],[0.805,0.6],[0.825,-0.38],[0.845,0.14],[0.865,-0.94],[0.885,0.45],[0.905,-0.12],[0.925,0.72],[0.945,-0.58],[0.965,0.35],[0.985,-0.3],
[0.015,-0.55],[0.035,0.95],[0.055,-0.29],[0.075,0.46],[0.095,-0.7],[0.115,0.18],[0.135,-0.88],[0.155,0.69],[0.175,-0.13],[0.195,0.4],[0.215,-0.6],[0.235,0.08],[0.255,-0.35],[0.275,0.88],[0.295,-0.79],[0.315,0.24],[0.335,-0.03],[0.355,0.57],[0.375,-0.92],[0.395,0.13],[0.415,-0.48],[0.435,0.78],[0.455,-0.17],[0.475,0.63],[0.495,-0.68],[0.515,0.3],[0.535,-0.99],[0.555,0.89],[0.575,-0.26],[0.595,0.05],[0.615,-0.74],[0.635,0.55],[0.655,-0.42],[0.675,0.97],[0.695,-0.08],[0.715,0.36],[0.735,-0.85],[0.755,0.66],[0.775,-0.31],[0.795,0.1],[0.815,-0.62],[0.835,0.91],[0.855,-0.22],[0.875,0.5],[0.895,-0.81],[0.915,0.22],[0.935,-0.46],[0.955,0.8],[0.975,-0.04],[0.995,0.42],
[0.05,0.01],[0.14,-0.6],[0.23,0.72],[0.32,-0.44],[0.41,0.28],[0.5,-0.83],[0.59,0.61],[0.68,-0.16],[0.77,0.87],[0.86,-0.5],[0.95,0.16],[0.09,-0.98],[0.27,0.47],[0.45,-0.66],[0.63,0.01],[0.81,-0.24],[0.99,0.93],[0.18,0.58],[0.54,0.39],[0.72,-0.7]
];

// ---- Chart ----
const toXY = (xs, ys) => xs.map((x, i) => ({x: x, y: ys[i]}));
const near = (arr, v) => arr.some(a => Math.abs(a - v) < 1e-9);
const minus = s => s.replace('-', '\u2212');

const FONT = "'Liberation Sans', Arial, Helvetica, sans-serif";

const labelPlugin = {
  id: 'panelAndLabels',
  afterDraw(chart) {
    const {ctx, chartArea: a, scales} = chart;
    ctx.save();
    ctx.strokeStyle = '#4d4d4d';
    ctx.lineWidth = 1.2;
    ctx.strokeRect(a.left, a.top, a.right - a.left, a.bottom - a.top);
    ctx.fillStyle = '#000';
    ctx.textBaseline = 'alphabetic';
    const cx = 436;
    lineLabels.forEach((lab, i) => {
      const parts = lab.split('|');
      let pieces;
      if (parts.length === 3 && lab.startsWith('Q')) {
        pieces = [{t: parts[0], s: 16, dy: 0}, {t: parts[1], s: 11, dy: 2.5}, {t: parts[2], s: 16, dy: 0}];
      } else {
        pieces = [{t: lab, s: 16, dy: 0}];
      }
      let w = 0;
      pieces.forEach(p => { ctx.font = p.s + 'px ' + FONT; p.w = ctx.measureText(p.t).width; w += p.w; });
      let x = cx - w / 2;
      const yb = scales.y.getPixelForValue(lineLabelY[i]) + 5.6;
      pieces.forEach(p => {
        ctx.font = p.s + 'px ' + FONT;
        ctx.fillText(p.t, x, yb + p.dy);
        x += p.w;
      });
    });
    ctx.restore();
  }
};

const dashed = {
  type: 'line', showLine: true, fill: false, tension: 0,
  borderColor: '#000', borderWidth: 1.3, borderDash: [5, 3.2],
  pointRadius: 0, pointHoverRadius: 0, order: 1
};

new Chart(document.getElementById('c'), {
  type: 'scatter',
  data: {
    datasets: [
      {
        label: 'obs',
        data: leftPts.concat(rightPts).map(p => ({x: p[0], y: p[1]})),
        backgroundColor: 'rgba(138,138,138,0.5)',
        borderWidth: 0,
        pointRadius: 3.8,
        pointHoverRadius: 3.8,
        order: 2
      },
      Object.assign({label: 'Q9995', data: toXY(q9995X, q9995Y)}, dashed),
      Object.assign({label: 'Q80', data: toXY(q80X, q80Y)}, dashed),
      Object.assign({label: 'mean', data: toXY(meanX, meanY)}, dashed)
    ]
  },
  options: {
    responsive: false,
    animation: false,
    devicePixelRatio: 1,
    layout: {padding: {left: 6, right: 82, top: 8, bottom: 0}},
    plugins: {legend: {display: false}, tooltip: {enabled: false}},
    events: [],
    scales: {
      x: {
        type: 'linear', min: -1.0429, max: 1.0205,
        afterBuildTicks: s => { s.ticks = xGrid.map(v => ({value: v})); },
        afterFit: s => { s.height = 41; s.paddingLeft = 0; s.paddingRight = 0; },
        border: {display: false},
        grid: {
          drawTicks: false,
          color: c => (c.tick && near(xMajor, c.tick.value)) ? '#e6e6e6' : '#f2f2f2',
          lineWidth: c => (c.tick && near(xMajor, c.tick.value)) ? 1 : 0.7
        },
        ticks: {
          padding: 7, color: '#4d4d4d', font: {family: FONT, size: 13.5},
          maxRotation: 0, autoSkip: false,
          callback: v => near(xMajor, v) ? minus(Number(v).toFixed(1)) : ''
        },
        title: {display: true, text: 'Predictor vector X', color: '#000',
          font: {family: FONT, size: 16.5, lineHeight: 1}, padding: {top: 0, bottom: 0}}
      },
      y: {
        type: 'linear', min: -6.84, max: 6.84,
        afterBuildTicks: s => { s.ticks = yGrid.map(v => ({value: v})); },
        afterFit: s => { s.width = 52; s.paddingTop = 0; s.paddingBottom = 0; },
        border: {display: false},
        grid: {
          drawTicks: false,
          color: c => (c.tick && near(yMajor, c.tick.value)) ? '#e6e6e6' : '#f2f2f2',
          lineWidth: c => (c.tick && near(yMajor, c.tick.value)) ? 1 : 0.7
        },
        ticks: {
          padding: 9, color: '#4d4d4d', font: {family: FONT, size: 13.5},
          autoSkip: false,
          callback: v => near(yMajor, v) ? minus(String(Math.round(v))) : ''
        },
        title: {display: true, text: 'Response Y', color: '#000',
          font: {family: FONT, size: 16.5, lineHeight: 1}, padding: {top: 0, bottom: 0}}
      }
    }
  },
  plugins: [labelPlugin]
});
</script>
</body>
</html>
